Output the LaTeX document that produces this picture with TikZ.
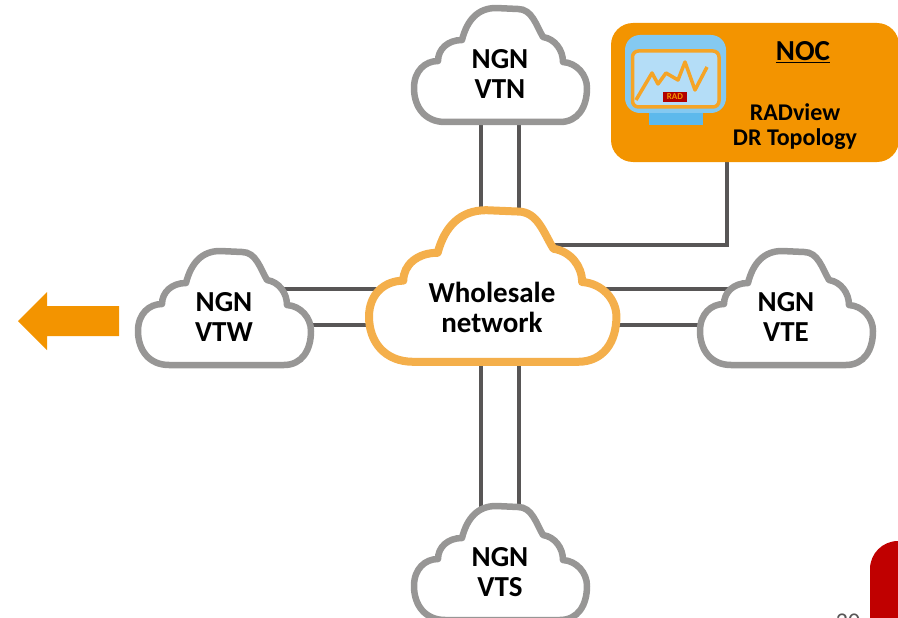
\documentclass[tikz,border=0pt]{standalone}
\usepackage{fontspec}
\setmainfont{Carlito}
\usetikzlibrary{calc,positioning,backgrounds}
\definecolor{nocorange}{HTML}{F39400}
\definecolor{wholeorange}{HTML}{F4AF4B}
\definecolor{ngngrey}{HTML}{979695}
\definecolor{linkgrey}{HTML}{585656}
\definecolor{screenblue}{HTML}{B4DDF7}
\definecolor{monitorblue}{HTML}{5DB9EC}
\definecolor{tabred}{HTML}{C00000}
\tikzset{
    cloud/.pic={
        \path[pic actions, line join=round] (-55,57) .. controls (-75,57) and (-86,42) .. (-86,23)
            .. controls (-86,6) and (-75,-4) .. (-62,-4)
            .. controls (-62,-16) and (-52,-25) .. (-38,-25)
            .. controls (-33,-45) and (-22,-57) .. (-4,-57)
            -- (18,-56)
            .. controls (32,-56) and (36,-40) .. (43,-28)
            .. controls (55,-26) and (63,-15) .. (63,-3)
            .. controls (77,-2) and (87,10) .. (87,23)
            .. controls (87,42) and (78,57) .. (60,57)
            -- cycle;
    },
    ngnline/.style={draw=ngngrey, fill=white, line width=6.5pt},
    wholeline/.style={draw=wholeorange, fill=white, line width=8pt, xscale=1.43, yscale=1.33},
    link/.style={draw=linkgrey, line width=3.5pt},
    ngn/.style={minimum width=172pt, minimum height=114pt},
}

\begin{document}
\begin{tikzpicture}[x=1pt, y=-1pt, align=center, inner sep=0pt, outer sep=0pt,
        font=\bfseries\fontsize{29}{30}\selectfont]
    \useasboundingbox (0,0) rectangle (898,618);
    \clip (0,0) rectangle (898,618);

    \node [minimum width=247pt, minimum height=152pt] (wholesale) at (492,307) {Wholesale\\network};
    \node [ngn, above=100pt of wholesale, xshift=8pt] (vtn) {NGN\\VTN};
    \node [ngn, below=132pt of wholesale, xshift=8pt] (vts) {NGN\\VTS};
    \node [ngn, left=58.5pt of wholesale, yshift=-10pt] (vtw) {NGN\\VTW};
    \node [ngn, right=84.5pt of wholesale, yshift=-10pt] (vte) {NGN\\VTE};

    \node [fill=nocorange, rounded corners=22pt, minimum width=288pt, minimum height=139pt] (noc) at (755,92.5) {};
    \node [font=\bfseries\fontsize{29}{30}\selectfont] (noctitle) at (803,52) {\underline{NOC}};
    \node [font=\bfseries\fontsize{24}{25}\selectfont, below=41pt of noctitle, xshift=-8pt] (noctext) {RADview\\DR Topology};

    \begin{scope}[on background layer]
        \foreach \off in {-19,19} {
            \draw[link] ([xshift=\off pt]vtn.center) -- ([xshift=\off pt]vtn.center |- wholesale.center);
            \draw[link] ([xshift=\off pt]vts.center) -- ([xshift=\off pt]vts.center |- wholesale.center);
        }
        \foreach \off in {28,-8} {
            \draw[link] ([yshift=\off pt]vtw.center) -- ([yshift=\off pt]vtw.center -| wholesale.center);
            \draw[link] ([yshift=\off pt]vte.center) -- ([yshift=\off pt]vte.center -| wholesale.center);
        }
        \draw[link] ([xshift=-28pt]noc.south) |- ([yshift=62pt]wholesale.center);

        \foreach \ngnname in {vtn,vts,vtw,vte} {
            \pic[ngnline] at ([yshift=9pt]\ngnname.center) {cloud};
        }
        \pic[wholeline] at ([yshift=21pt]wholesale.center) {cloud};
    \end{scope}

    % Monitor icon
    \fill[monitorblue] (649,105) rectangle (703,125);
    \fill[monitorblue!55!screenblue, rounded corners=15pt] (625,35) rectangle (726,113);
    \draw[nocorange!85!white, fill=screenblue, line width=3.5pt, rounded corners=6pt] (632.5,51) rectangle (719,107);
    \draw[nocorange!85!white, line width=3.5pt, line join=round] (636,100) -- (652,73) -- (658,84) -- (666,73) -- (678,80) -- (685,62) -- (695,90) -- (707,67);
    \node [fill=red!70!black, text=nocorange, font=\bfseries\fontsize{9}{10}\selectfont, minimum width=24pt, minimum height=10pt] (radbadge) at (675,97) {RAD};

    % Arrow and slide furniture
    \fill[nocorange] (119,306) -- (47,306) -- (47,292) -- (18,321) -- (47,350) -- (47,336) -- (119,336) -- cycle;
    \fill[tabred, rounded corners=28pt] (870,541) rectangle (940,680);
    \node [text=linkgrey, font=\fontsize{24}{26}\selectfont, anchor=base] (slidenum) at (848,629) {20};
\end{tikzpicture}
\end{document}
